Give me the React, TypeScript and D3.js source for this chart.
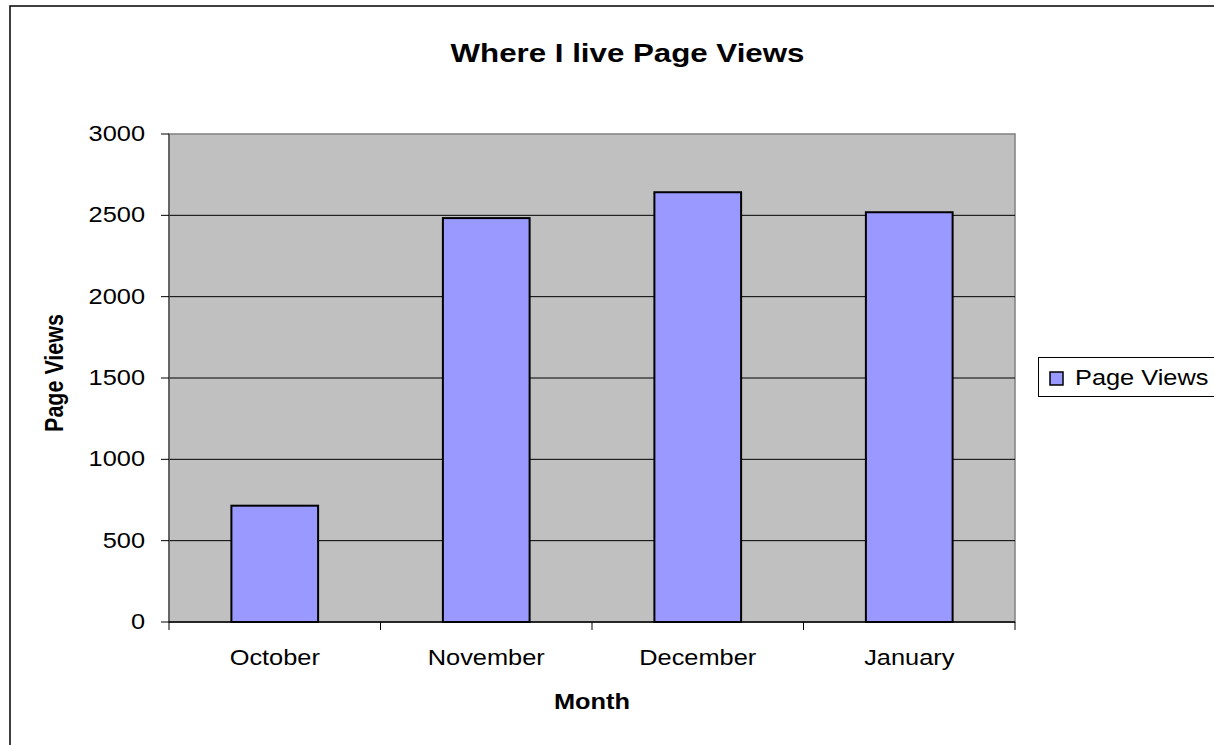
import * as d3 from "d3";

const months = ["October", "November", "December", "January"];
const pageViews = [715, 2483, 2642, 2519];
const yTickValues = [0, 500, 1000, 1500, 2000, 2500, 3000];
const seriesName = "Page Views";

// the original is an Excel picture stretched sideways, so text gets a bit of x-scale
const SX = 1.18;
const FONT = "'Liberation Sans', Arial, sans-serif";

export default function App() {
  const width = 1214;
  const height = 745;
  const plot = { left: 169, right: 1015, top: 134, bottom: 622 };

  const x = d3
    .scaleBand<string>()
    .domain(months)
    .range([plot.left, plot.right])
    .paddingInner(0.59)
    .paddingOuter(0.295);

  const y = d3.scaleLinear().domain([0, 3000]).range([plot.bottom, plot.top]);

  const step = x.step();
  const bw = x.bandwidth();
  // category separators for the x tick marks
  const xTicks = months.map((m) => (x(m) ?? 0) + bw / 2 - step / 2);
  xTicks.push(xTicks[xTicks.length - 1] + step);

  const cx = (plot.left + plot.right) / 2;
  // title is centred on the whole chart area, which runs past the right edge
  const titleX = 627.5;

  return (
    <svg
      width={width}
      height={height}
      style={{ position: "absolute", left: 0, top: 0, display: "block", background: "#fff" }}
      fontFamily={FONT}
    >
      {/* chart area border (runs off the right/bottom edge) */}
      <rect x={10} y={6} width={1300} height={900} fill="#fff" stroke="#000" strokeWidth={1.5} />

      {/* title */}
      <text
        transform={`translate(${titleX},61.5) scale(${SX},1)`}
        textAnchor="middle"
        fontSize={26.5}
        fontWeight={700}
        fill="#000"
      >
        Where I live Page Views
      </text>

      {/* plot area */}
      <rect
        x={plot.left}
        y={plot.top}
        width={plot.right - plot.left}
        height={plot.bottom - plot.top}
        fill="#c0c0c0"
        stroke="#808080"
        strokeWidth={1.5}
      />

      {/* gridlines */}
      {yTickValues
        .filter((v) => v > 0 && v < 3000)
        .map((v) => (
          <line
            key={`g${v}`}
            x1={plot.left}
            x2={plot.right}
            y1={y(v)}
            y2={y(v)}
            stroke="#000"
            strokeWidth={1}
          />
        ))}

      {/* bars */}
      {months.map((m, i) => (
        <rect
          key={m}
          x={x(m)}
          y={y(pageViews[i])}
          width={bw}
          height={y(0) - y(pageViews[i])}
          fill="#9999ff"
          stroke="#000"
          strokeWidth={2}
        />
      ))}

      {/* y axis */}
      <line x1={plot.left} x2={plot.left} y1={plot.top} y2={plot.bottom} stroke="#555" strokeWidth={1.5} />
      {yTickValues.map((v) => (
        <g key={`y${v}`}>
          <line x1={plot.left - 8} x2={plot.left} y1={y(v)} y2={y(v)} stroke="#000" strokeWidth={1} />
          <text
            transform={`translate(145,${y(v) + 7}) scale(${SX},1)`}
            textAnchor="end"
            fontSize={21.5}
            fill="#000"
          >
            {v}
          </text>
        </g>
      ))}

      {/* x axis */}
      <line x1={plot.left} x2={plot.right} y1={plot.bottom} y2={plot.bottom} stroke="#000" strokeWidth={1.5} />
      {xTicks.map((t, i) => (
        <line key={`xt${i}`} x1={t} x2={t} y1={plot.bottom} y2={plot.bottom + 8} stroke="#000" strokeWidth={1} />
      ))}
      {months.map((m) => (
        <text
          key={`xl${m}`}
          transform={`translate(${(x(m) ?? 0) + bw / 2},665) scale(${SX},1)`}
          textAnchor="middle"
          fontSize={21.5}
          fill="#000"
        >
          {m}
        </text>
      ))}

      {/* axis titles */}
      <text
        transform={`translate(${cx},709) scale(${SX},1)`}
        textAnchor="middle"
        fontSize={21.5}
        fontWeight={700}
        fill="#000"
      >
        Month
      </text>
      <text
        transform={`translate(62.5,373) scale(${SX},1) rotate(-90)`}
        textAnchor="middle"
        fontSize={21.5}
        fontWeight={700}
        fill="#000"
      >
        Page Views
      </text>

      {/* legend */}
      <rect x={1038.5} y={357.5} width={200} height={39} fill="#fff" stroke="#000" strokeWidth={1} />
      <rect x={1050} y={372} width={13} height={13} fill="#9999ff" stroke="#000" strokeWidth={1.5} />
      <text
        transform={`translate(1075,385) scale(${SX},1)`}
        fontSize={21.5}
        fill="#000"
      >
        {seriesName}
      </text>
    </svg>
  );
}
